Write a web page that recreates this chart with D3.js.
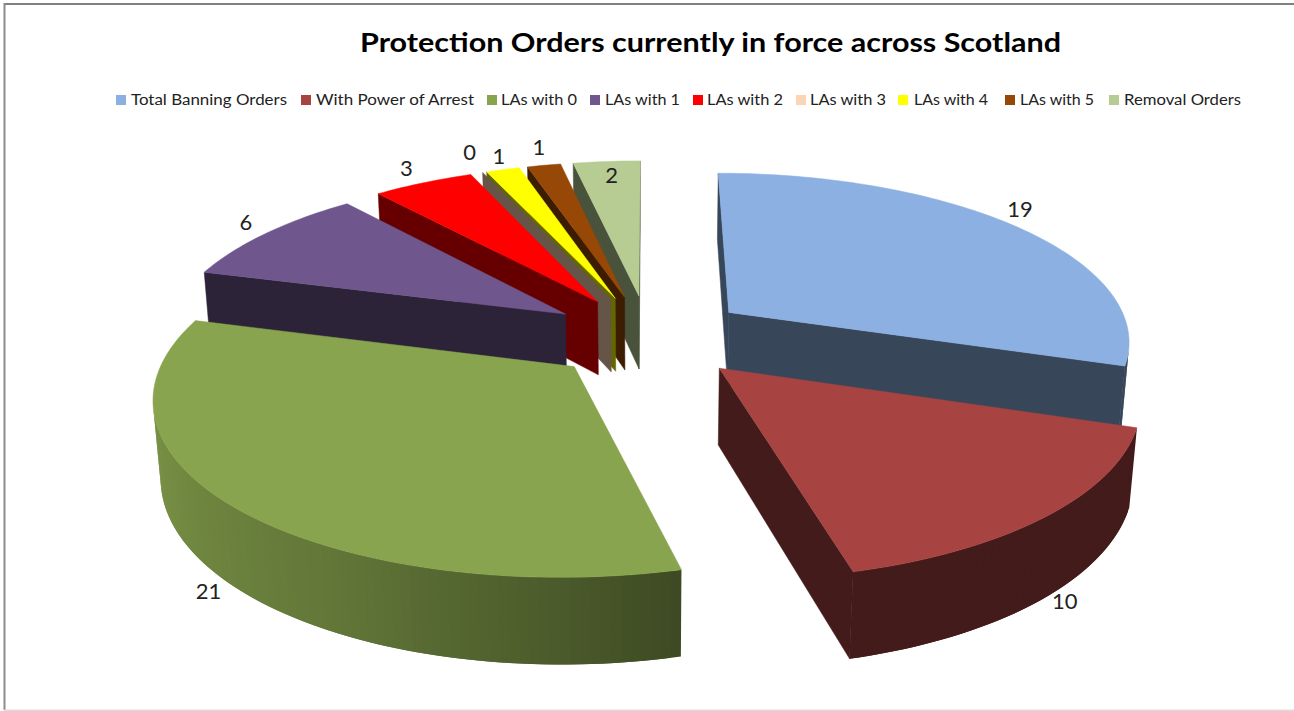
<!DOCTYPE html>
<html><head><meta charset="utf-8"><script src="https://cdn.jsdelivr.net/npm/d3@7"></script>
<style>body{margin:0;background:#fff}svg{display:block}text{font-family:Lato,"Open Sans",sans-serif}</style></head><body><svg id="chart" width="1294" height="711"></svg>
<script>
// Series
const categories=["Total Banning Orders","With Power of Arrest","LAs with 0","LAs with 1","LAs with 2","LAs with 3","LAs with 4","LAs with 5","Removal Orders"];
const values=[19,10,21,6,3,0,1,1,2];
const colours=["#8cb0e1","#a74442","#88a44e","#6f578e","#ff0000","#fcd5b5","#ffff00","#974806","#b7cc93"];

// Legend layout
const legendSwatchX=[116,301,487,590,693,796,898,1005,1109];
const legendTextX=[131,316,501,605,707,810,914,1020,1124];
const legendTextWidth=[156,158,76,75,76,76,74,74,117];

// Value label offsets from the middle of each slice's outer edge
const labelNudges=[[4,-17],[17,86],[-23,85],[-20,-11],[-17,-15],[-13,-20],[-4,-13],[-5,-18],[5,14]];

// Camera and pie geometry (pie radius = 1 world unit)
const cam={cx:648.59,cy:336.42,F:2361.24,D:5.8652,T:0.4296,explode:0.2509,depth:0.2081};
const sinT=Math.sin(cam.T),cosT=Math.cos(cam.T);
const eye=[0,-cam.D*cosT,cam.D*sinT];

const pie=d3.pie().sort(null).value(d=>d)(values);
const midAngle=s=>(s.startAngle+s.endAngle)/2;

function world(s,a,r,bottom){
  const m=midAngle(s);
  return [r*Math.sin(a)+cam.explode*Math.sin(m),r*Math.cos(a)+cam.explode*Math.cos(m),bottom?-cam.depth:0];
}
function project(p){
  const d=cam.D+p[1]*cosT-p[2]*sinT,v=p[1]*sinT+p[2]*cosT;
  return [cam.cx+cam.F*p[0]/d,cam.cy-cam.F*v/d];
}
const pt=(s,a,r,b)=>project(world(s,a,r,b));
const faces=(n,p)=>n[0]*(eye[0]-p[0])+n[1]*(eye[1]-p[1])+n[2]*(eye[2]-p[2])>0;

// Side walls get lighter from the front of the pie round to the left
const deg=Math.PI/180;
const rimShade=d3.scaleLinear()
  .domain([0,165.6,165.8,180,210,250,290,360].map(d=>d*deg))
  .range([0.4,0.4,0.45,0.55,0.73,0.87,0.92,0.92]);
const wallShade=0.4;
const shade=(c,f)=>{const o=d3.rgb(c);return d3.rgb(o.r*f,o.g*f,o.b*f).formatHex();};

const svg=d3.select("#chart");
const line=d3.line();

// Frame
svg.append("rect").attr("x",4).attr("y",3).attr("width",1290).attr("height",2).attr("fill","#808080");
svg.append("rect").attr("x",3.5).attr("y",3).attr("width",2).attr("height",707).attr("fill","#8c8c8c");
svg.append("rect").attr("x",4).attr("y",709.5).attr("width",1290).attr("height",1.5).attr("fill","#dcdcdc");

// Title
svg.append("text").attr("x",360).attr("y",52).attr("font-size",26.5).attr("font-weight",700).attr("fill","#000")
  .attr("textLength",701).attr("lengthAdjust","spacingAndGlyphs")
  .text("Protection Orders currently in force across Scotland");

// Legend
categories.forEach((c,i)=>{
  svg.append("rect").attr("x",legendSwatchX[i]).attr("y",95).attr("width",10).attr("height",10).attr("fill",colours[i]);
  svg.append("text").attr("x",legendTextX[i]).attr("y",105).attr("font-size",14.5).attr("fill","#222")
    .attr("textLength",legendTextWidth[i]).attr("lengthAdjust","spacingAndGlyphs").text(c);
});

// Slices, furthest first
const order=pie.map((s,i)=>i).sort((a,b)=>Math.cos(midAngle(pie[b]))-Math.cos(midAngle(pie[a])));
const g=svg.append("g");
function poly(pts,fill,edge){
  const p=g.append("path").attr("d",line(pts)+"Z").attr("fill",fill);
  if(edge)p.attr("stroke",fill).attr("stroke-width",0.5).attr("stroke-linejoin","round");
}
const STEP=1.2*deg;
order.forEach(i=>{
  const s=pie[i],c=colours[i],a0=s.startAngle,a1=s.endAngle;
  const apex=world(s,a0,0,false);
  // cut walls
  if(faces([-Math.cos(a0),Math.sin(a0),0],apex))
    poly([pt(s,a0,0,0),pt(s,a0,1,0),pt(s,a0,1,1),pt(s,a0,0,1)],shade(c,wallShade),true);
  if(faces([Math.cos(a1),-Math.sin(a1),0],apex))
    poly([pt(s,a1,0,0),pt(s,a1,1,0),pt(s,a1,1,1),pt(s,a1,0,1)],shade(c,wallShade),true);
  // outer wall: each strip runs under the next one so no seams show
  const n=Math.max(1,Math.ceil((a1-a0)/STEP));
  const da=(a1-a0)/n;
  for(let k=0;k<n;k++){
    const u=a0+da*k,v=Math.min(a1,u+2*da),w=u+da/2;
    if(faces([Math.sin(w),Math.cos(w),0],world(s,w,1,false)))
      poly([pt(s,u,1,0),pt(s,v,1,0),pt(s,v,1,1),pt(s,u,1,1)],shade(c,rimShade(w)),false);
  }
  // top face
  if(a1>a0){
    const top=[pt(s,a0,0,0)];
    for(let k=0;k<=n;k++)top.push(pt(s,a0+da*k,1,0));
    poly(top,c,true);
  }
});

// Value labels
pie.forEach((s,i)=>{
  const m=pt(s,midAngle(s),1,0);
  svg.append("text").attr("x",m[0]+labelNudges[i][0]).attr("y",m[1]+labelNudges[i][1]).attr("dy","0.35em")
    .attr("text-anchor","middle").attr("font-size",22).attr("fill","#222").text(values[i]);
});
</script></body></html>
